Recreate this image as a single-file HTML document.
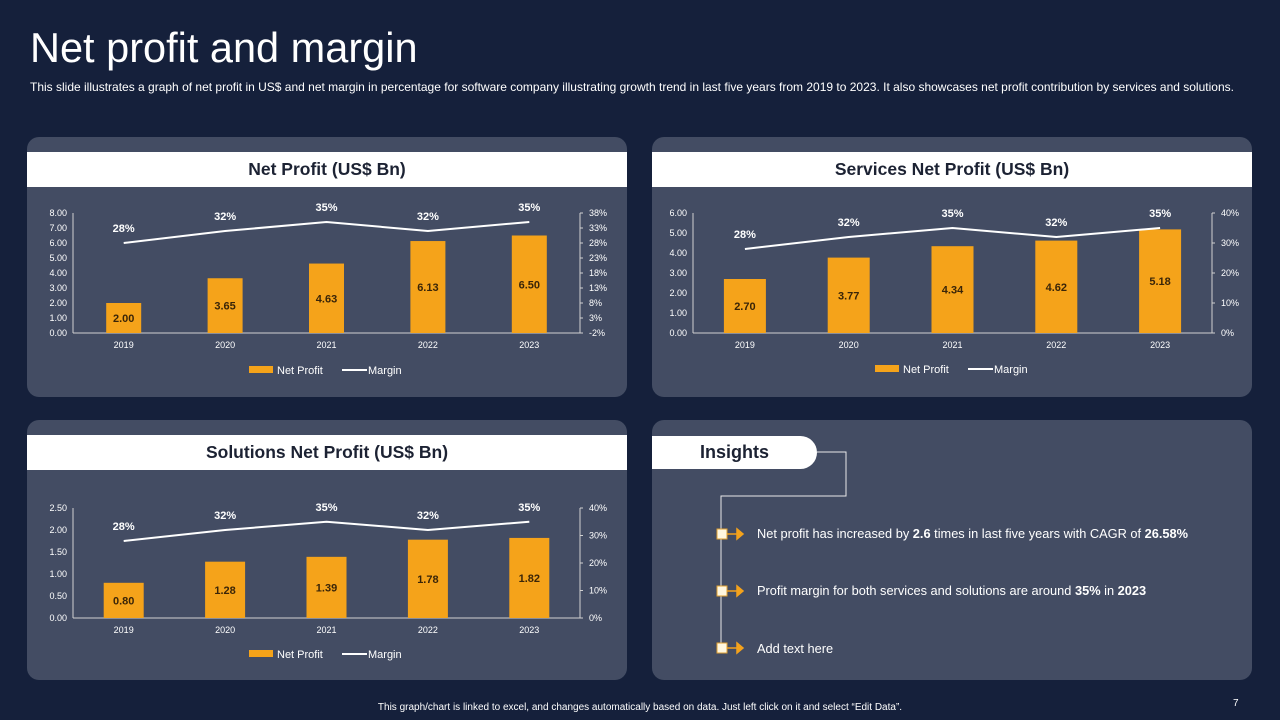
<!DOCTYPE html>
<html><head><meta charset="utf-8">
<style>
body{margin:0;width:1280px;height:720px;background:#15203b;font-family:"Liberation Sans",sans-serif;overflow:hidden;position:relative;color:#fff}
.abs{position:absolute}
.panel{position:absolute;background:#434c63;border-radius:12px}
.hdr{position:absolute;background:#fff;color:#1c2233;font-weight:bold;font-size:17.5px;text-align:center;line-height:35px}
</style></head><body>
<div class="abs" style="left:30px;top:24px;font-size:41.5px;">Net profit and margin</div>
<div class="abs" style="left:30px;top:80px;font-size:12px;white-space:nowrap">This slide illustrates a graph of net profit in US$ and net margin in percentage for software company illustrating growth trend in last five years from 2019 to 2023. It also showcases net profit contribution by services and solutions.</div>

<div class="panel" style="left:27px;top:137px;width:600px;height:260px"></div>
<div class="hdr" style="left:27px;top:152px;width:600px;height:35px">Net Profit (US$ Bn)</div>
<div class="panel" style="left:652px;top:137px;width:600px;height:260px"></div>
<div class="hdr" style="left:652px;top:152px;width:600px;height:35px">Services Net Profit (US$ Bn)</div>
<div class="panel" style="left:27px;top:420px;width:600px;height:260px"></div>
<div class="hdr" style="left:27px;top:435px;width:600px;height:35px">Solutions Net Profit (US$ Bn)</div>
<div class="panel" style="left:652px;top:420px;width:600px;height:260px"></div>
<div class="hdr" style="left:652px;top:436px;width:165px;height:33px;line-height:33px;border-radius:0 17px 17px 0;font-size:18px">Insights</div>

<svg class="abs" style="left:0;top:0" width="1280" height="720">
<polyline points="817,452 846,452 846,496 721,496 721,650" fill="none" stroke="#e8e8e8" stroke-width="1"/>
<g fill="#fff7e0" stroke="#e0a030" stroke-width="1">
<rect x="717" y="529" width="10" height="10"/><rect x="717" y="586" width="10" height="10"/><rect x="717" y="643" width="10" height="10"/></g>
<g stroke="#f4a21c" stroke-width="1.5" fill="#f4a21c">
<line x1="727" y1="534" x2="738" y2="534"/><polygon points="737,529 743,534 737,539"/>
<line x1="727" y1="591" x2="738" y2="591"/><polygon points="737,586 743,591 737,596"/>
<line x1="727" y1="648" x2="738" y2="648"/><polygon points="737,643 743,648 737,653"/></g>
</svg>
<div class="abs" style="left:757px;top:526px;font-size:12.8px">Net profit has increased by <b>2.6</b> times in last five years with CAGR of <b>26.58%</b></div>
<div class="abs" style="left:757px;top:583px;font-size:12.8px">Profit margin for both services and solutions are around <b>35%</b> in <b>2023</b></div>
<div class="abs" style="left:757px;top:641px;font-size:12.8px">Add text here</div>

<div class="abs" style="left:0;width:1280px;top:702px;text-align:center;font-size:10px">This graph/chart is linked to excel, and changes automatically based on data. Just left click on it and select “Edit Data”.</div>
<div class="abs" style="left:1233px;top:698px;font-size:10px">7</div>

<svg id="charts" class="abs" style="left:0;top:0" width="1280" height="720"></svg>

<script>
const years = ["2019","2020","2021","2022","2023"];
const netProfit = [2.00,3.65,4.63,6.13,6.50];
const netMargin = [28,32,35,32,35];
const servicesProfit = [2.70,3.77,4.34,4.62,5.18];
const servicesMargin = [28,32,35,32,35];
const solutionsProfit = [0.80,1.28,1.39,1.78,1.82];
const solutionsMargin = [28,32,35,32,35];
const leftTicks1 = [0,1,2,3,4,5,6,7,8];
const rightTicks1 = [-2,3,8,13,18,23,28,33,38];
const leftTicks2 = [0,1,2,3,4,5,6];
const rightTicks2 = [0,10,20,30,40];
const leftTicks3 = [0,0.5,1,1.5,2,2.5];
const rightTicks3 = [0,10,20,30,40];

const NS="http://www.w3.org/2000/svg";
const svg=document.getElementById('charts');
function mk(tag,attrs,parent,text){const e=document.createElementNS(NS,tag);for(const k in attrs)e.setAttribute(k,attrs[k]);if(text!==undefined)e.textContent=text;(parent||svg).appendChild(e);return e;}

function chart(cfg,name,cats,vals,margins,lt,rt){
  const g=mk('g',{});
  
  
  const lmin=lt[0],lmax=lt[lt.length-1],rmin=rt[0],rmax=rt[rt.length-1];
  const yL=v=>cfg.y0-(v-lmin)/(lmax-lmin)*(cfg.y0-cfg.y1);
  const yR=v=>cfg.y0-(v-rmin)/(rmax-rmin)*(cfg.y0-cfg.y1);
  const step=(cfg.xr-cfg.xl)/cats.length;
  const xC=i=>cfg.xl+step*(i+0.5);
  mk('line',{x1:cfg.xl,y1:cfg.y1,x2:cfg.xl,y2:cfg.y0,stroke:'#d0d0d0','stroke-width':1},g);
  mk('line',{x1:cfg.xl,y1:cfg.y0,x2:cfg.xr,y2:cfg.y0,stroke:'#d0d0d0','stroke-width':1},g);
  mk('line',{x1:cfg.xr,y1:cfg.y1,x2:cfg.xr,y2:cfg.y0,stroke:'#d0d0d0','stroke-width':1},g);
  lt.forEach(t=>{const tx=mk('text',{x:cfg.xl-6,y:yL(t)+3,'text-anchor':'end','font-size':9,fill:'#fff'},g,t.toFixed(2));});
  rt.forEach(t=>{mk('line',{x1:cfg.xr,y1:yR(t),x2:cfg.xr+3,y2:yR(t),stroke:'#d0d0d0'},g);const tx=mk('text',{x:cfg.xr+9,y:yR(t)+3,'font-size':9,fill:'#fff'},g,t+'%');});
  cats.forEach((c,i)=>{
    const x=xC(i),top=yL(vals[i]);
    const b=mk('rect',{x:x-cfg.bw/2,y:top,width:cfg.bw,height:cfg.y0-top,fill:'#f5a31a'},g);
    
    
    const vl=mk('text',{x:x,y:(top+cfg.y0)/2+4,'text-anchor':'middle','font-size':11,'font-weight':'bold',fill:'#3a2508'},g,vals[i].toFixed(2));
    
    
    const xl=mk('text',{x:x,y:cfg.y0+15,'text-anchor':'middle','font-size':9,fill:'#fff'},g,c);
    
    
  });
  const pts=margins.map((m,i)=>xC(i)+','+yR(m)).join(' ');
  const ln=mk('polyline',{points:pts,fill:'none',stroke:'#fff','stroke-width':2},g);
  
  
  margins.forEach((m,i)=>{const t=mk('text',{x:xC(i),y:yR(m)-11,'text-anchor':'middle','font-size':11,'font-weight':'bold',fill:'#fff'},g,m+'%');});
  const lx=cfg.legX,ly=cfg.legY;
  const lg=mk('g',{},g);
  
  
  mk('rect',{x:lx,y:ly-4,width:24,height:7,fill:'#f5a31a'},lg);
  mk('text',{x:lx+28,y:ly+4,'font-size':11,fill:'#fff'},lg,'Net Profit');
  mk('line',{x1:lx+93,y1:ly,x2:lx+118,y2:ly,stroke:'#fff','stroke-width':2},lg);
  mk('text',{x:lx+119,y:ly+4,'font-size':11,fill:'#fff'},lg,'Margin');
}
chart({xl:73,xr:580,y0:333,y1:213,bw:35,legX:249,legY:370},'net-profit',years,netProfit,netMargin,leftTicks1,rightTicks1);
chart({xl:693,xr:1212,y0:333,y1:213,bw:42,legX:875,legY:369},'services',years,servicesProfit,servicesMargin,leftTicks2,rightTicks2);
chart({xl:73,xr:580,y0:618,y1:508,bw:40,legX:249,legY:654},'solutions',years,solutionsProfit,solutionsMargin,leftTicks3,rightTicks3);
</script>
</body></html>
